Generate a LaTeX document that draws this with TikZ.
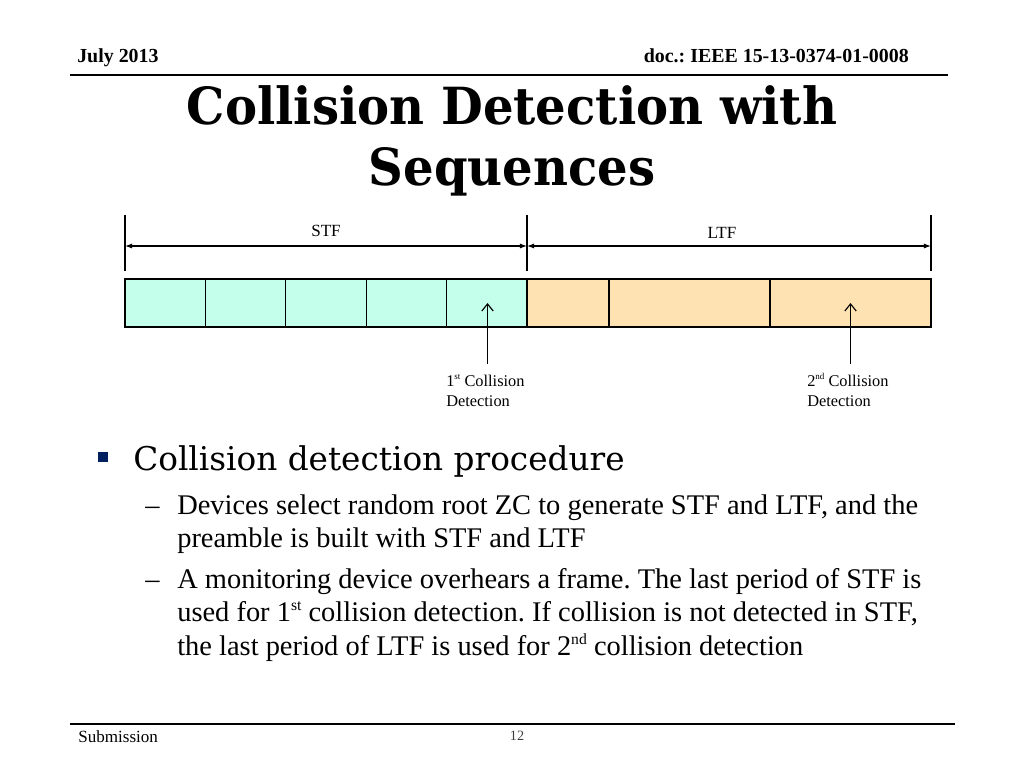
\documentclass[tikz,border=0pt]{standalone}
\usepackage{fontspec}
\setmainfont{Liberation Serif}
\newfontfamily\titlefont[FakeStretch=0.94]{DejaVu Serif}
\newfontfamily\pointfont{DejaVu Serif}
\usetikzlibrary{arrows.meta,positioning}
\definecolor{stfcyan}{RGB}{196,255,236}
\definecolor{ltforange}{RGB}{255,226,178}
\definecolor{bulletblue}{RGB}{0,32,96}
\newcommand{\pxu}{0.703125pt}
\newcommand{\lines}[1]{\begin{tabular}[t]{@{}l@{}}#1\end{tabular}}
\newcommand{\ordsup}[1]{\raisebox{0.42em}{\scalebox{0.55}{#1}}}
\frenchspacing

\begin{document}
\begin{tikzpicture}[
  x=\pxu, y=-\pxu,
  >=Latex,
  cell/.style={rectangle, draw=black, line width=0.9pt, minimum height=48*\pxu, inner sep=0pt, outer sep=0pt},
  stfcell/.style={cell, fill=stfcyan, minimum width=80.4*\pxu},
  ltfcell/.style={cell, fill=ltforange},
  tick/.style={line width=0.9pt},
  dimarrow/.style={{Latex[length=5pt,width=3.6pt]}-{Latex[length=5pt,width=3.6pt]}, line width=0.8pt},
  hitarrow/.style={-{Straight Barb[length=5pt,width=8pt]}, line width=0.8pt},
  dimlabel/.style={font=\fontsize{12}{14}\selectfont, inner sep=0pt},
  note/.style={anchor=base west, font=\fontsize{11.5}{14}\selectfont, inner sep=0pt},
  rule/.style={line width=1.4pt},
  header/.style={font=\bfseries\fontsize{14}{16}\selectfont, inner sep=0pt},
  titleline/.style={anchor=base, font=\titlefont\bfseries\fontsize{36}{43}\selectfont, inner sep=0pt},
  subpoint/.style={anchor=base west, inner sep=0pt, font=\fontsize{20}{23.9}\selectfont}
]
\useasboundingbox (0,0) rectangle (1024,768);

\node[header, anchor=base west] (date) at (77,62.5) {July 2013};
\node[header, anchor=base east] (docid) at (909,62.5) {doc.: IEEE 15-13-0374-01-0008};
\coordinate (hdrL) at (70,75);
\coordinate (hdrR) at (948,75);
\draw[rule] (hdrL) -- (hdrR);

\node[titleline] (title) at (512,125) {Collision Detection with};
\node[titleline] (titlecont) at (512,186) {Sequences};

\node[stfcell, anchor=north west] (s1) at (125,279) {};
\foreach \i [remember=\i as \j (initially 1)] in {2,...,5}
  \node[stfcell, right=0pt of s\j] (s\i) {};
\node[ltfcell, minimum width=82*\pxu, right=0pt of s5] (l1) {};
\node[ltfcell, minimum width=161*\pxu, right=0pt of l1] (l2) {};
\node[ltfcell, minimum width=161*\pxu, right=0pt of l2] (l3) {};

\foreach \n/\x in {a/125, b/527, c/931} {
  \coordinate (top\n) at (\x,215);
  \coordinate (bot\n) at (\x,271);
  \coordinate (mid\n) at (\x,246);
  \draw[tick] (top\n) -- (bot\n);
}
\draw[dimarrow] (mida) -- (midb);
\draw[dimarrow] (midb) -- (midc);
\node[dimlabel] (stflbl) at (326,231) {STF};
\node[dimlabel] (ltflbl) at (722,233) {LTF};

\coordinate (hit1) at (487.5,303);
\coordinate (foot1) at (487.5,364);
\coordinate (hit2) at (850.5,303);
\coordinate (foot2) at (850.5,364);
\draw[hitarrow] (foot1) -- (hit1);
\draw[hitarrow] (foot2) -- (hit2);
\node[note] (det1) at (446,386.5) {\lines{1\ordsup{st} Collision\\Detection}};
\node[note] (det2) at (807,386.5) {\lines{2\ordsup{nd} Collision\\Detection}};

\node[fill=bulletblue, minimum size=10*\pxu, inner sep=0pt] (sq) at (103,457) {};
\node[anchor=base west, inner sep=0pt, font=\pointfont\fontsize{23}{28}\selectfont] (point) at (133,470.5) {Collision detection procedure};

\node[subpoint] (dash1) at (145,514) {--};
\node[subpoint] (item1) at (177,514) {\lines{Devices select random root ZC to generate STF and LTF, and the\\preamble is built with STF and LTF}};
\node[subpoint] (dash2) at (145,588) {--};
\node[subpoint] (item2) at (177,588) {\lines{A monitoring device overhears a frame. The last period of STF is\\used for 1\ordsup{st} collision detection. If collision is not detected in STF,\\the last period of LTF is used for 2\ordsup{nd} collision detection}};

\coordinate (ftrL) at (70,724);
\coordinate (ftrR) at (955,724);
\draw[rule] (ftrL) -- (ftrR);
\node[anchor=base west, inner sep=0pt, font=\fontsize{12}{14}\selectfont] (sub) at (78,742) {Submission};
\node[anchor=base, inner sep=0pt, text=black!75, font=\fontsize{10}{12}\selectfont] (pageno) at (517,740) {12};
\end{tikzpicture}
\end{document}
